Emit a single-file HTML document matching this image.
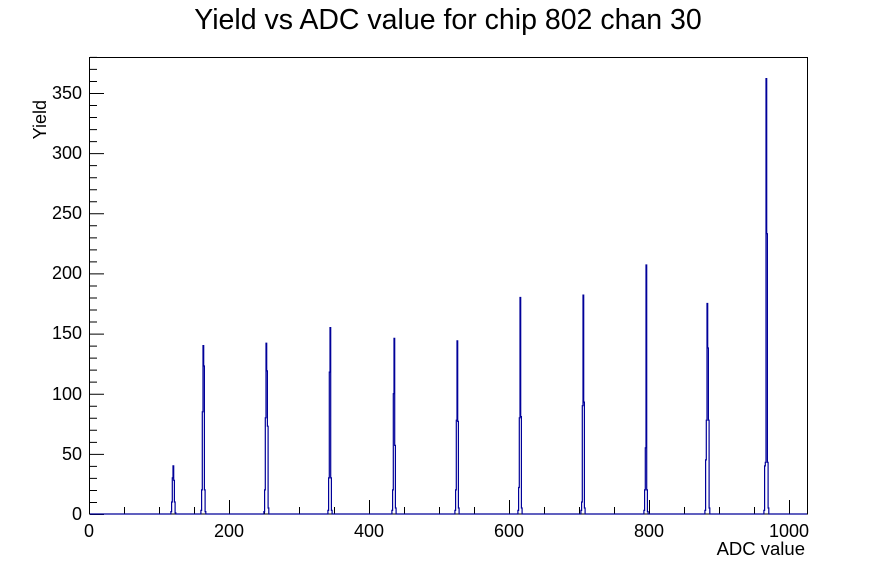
<!DOCTYPE html>
<html><head><meta charset="utf-8"><style>
body{margin:0;background:#fff;}
svg{display:block;font-family:"Liberation Sans",sans-serif;}
</style></head><body>
<svg id="s" width="896" height="572" viewBox="0 0 896 572">
<rect width="896" height="572" fill="#fff"/>
<text x="448" y="29" font-size="28.5" text-anchor="middle">Yield vs ADC value for chip 802 chan 30</text>
<rect x="89.5" y="57.5" width="718" height="456.5" fill="none" stroke="#000" stroke-width="1"/>
<g id="ticks" stroke="#000" stroke-width="1"></g>
<g font-size="18" text-anchor="middle">
<text x="89" y="537">0</text><text x="229" y="537">200</text><text x="369" y="537">400</text>
<text x="509" y="537">600</text><text x="649" y="537">800</text><text x="789" y="537">1000</text>
</g>
<text x="805" y="555" font-size="18.5" text-anchor="end">ADC value</text>
<g font-size="18" text-anchor="end">
<text x="82" y="520">0</text><text x="82" y="460">50</text><text x="82" y="400">100</text>
<text x="82" y="339">150</text><text x="82" y="279">200</text><text x="82" y="219">250</text>
<text x="82" y="159">300</text><text x="82" y="99">350</text>
</g>
<text transform="translate(46,100) rotate(-90)" font-size="18" text-anchor="end">Yield</text>
<path id="h" fill="none" stroke="#000099" stroke-width="1.2"/>
</svg>
<script>
var t='';
for(var v=0;v<=1020;v+=50){var x=89.5+v*0.7;var L=(v%200==0)?14:7;t+='M'+x+' 514V'+(514-L);}
for(var v=0;v<=380;v+=10){var y=514-v*1.2029+0.5;var L=(v%50==0)?14:7;t+='M90 '+y+'H'+(90+L);}
document.getElementById('ticks').innerHTML='<path d="'+t+'"/>';
var peaks=[[173,[2,10,30,40,28,10,1]],[203,[3,20,85,140,123,20,2]],[266,[2,20,80,142,119,73,5]],
[330,[3,30,118,155,30,3]],[394,[3,20,100,146,57,5]],[457,[3,20,78,144,77,5]],
[520,[3,22,80,180,81,5]],[583,[3,10,90,182,93,5]],[646,[3,20,55,207,20,2]],
[707,[3,45,78,175,138,78,5]],[766,[3,40,43,362,233,43,5]]];
var d='M90 514';
peaks.forEach(function(p){var vals=p[1];var imax=vals.indexOf(Math.max.apply(null,vals));
var x0=p[0]-imax*0.7;d+='H'+x0.toFixed(2);
vals.forEach(function(v,i){var y=514-v*1.2029;d+='V'+y.toFixed(1)+'H'+(x0+(i+1)*0.7).toFixed(2);});
d+='V514';});
d+='H807';
document.getElementById('h').setAttribute('d',d);
</script>
</body></html>
